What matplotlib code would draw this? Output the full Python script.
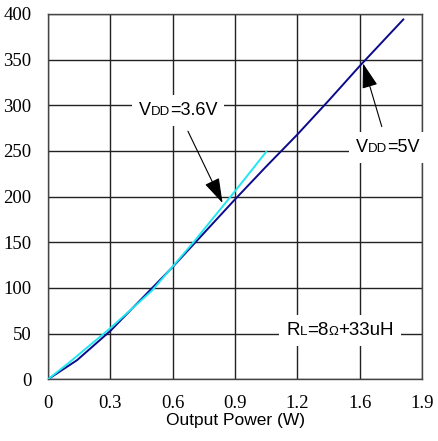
import matplotlib
matplotlib.use('Agg')
import matplotlib.pyplot as plt
from matplotlib.offsetbox import TextArea, HPacker, AnnotationBbox

# Output power (W) vs. supply current / dissipation curves
x_5v = [0, 0.14, 0.3, 0.45, 0.6, 0.75, 0.9, 1.05, 1.2, 1.35, 1.5, 1.71]
y_5v = [0, 21, 53, 88, 123, 160, 197, 233, 268, 305, 343, 394]

x_36v = [0, 0.1, 0.3, 0.5, 0.7, 0.9, 1.05]
y_36v = [0, 18, 56, 97, 150, 206, 249]

xticks = [0, 0.3, 0.6, 0.9, 1.2, 1.5, 1.8]
xtick_labels = ['0', '0.3', '0.6', '0.9', '1.2', '1.6', '1.9']
yticks = [0, 50, 100, 150, 200, 250, 300, 350, 400]

SANS = 'Liberation Sans'
SERIF = 'Liberation Serif'

fig = plt.figure(figsize=(4.38, 4.41), dpi=100)
ax = fig.add_axes([0.1096, 0.1399, 0.8539, 0.8284])

ax.plot(x_5v, y_5v, color='#0a0a8a', lw=1.4, zorder=3)
ax.plot(x_36v, y_36v, color='#22e6f0', lw=1.4, zorder=3)

ax.set_xlim(0, 1.8)
ax.set_ylim(0, 400)
ax.set_xticks(xticks)
ax.set_xticklabels(xtick_labels)
ax.set_yticks(yticks)
ax.tick_params(length=0, labelsize=13.5, pad=11)
for lab in ax.get_xticklabels() + ax.get_yticklabels():
    lab.set_fontfamily(SERIF)
ax.tick_params(axis='y', pad=12)
ax.grid(True, color='#222222', lw=1.0)
for s in ax.spines.values():
    s.set_color('#444444')
    s.set_linewidth(1.0)
ax.set_xlabel('Output Power (W)', fontfamily=SANS, fontsize=12.5, labelpad=1)


def label_box(parts):
    areas = [TextArea(t, textprops=dict(fontfamily=SANS, fontsize=fs, color='black'))
             for t, fs in parts]
    return HPacker(children=areas, align='baseline', pad=0, sep=0)


arrow = dict(arrowstyle='-|>,head_length=1.6,head_width=0.5', color='black',
             lw=0.8, mutation_scale=7, shrinkA=4, shrinkB=0)

ab = AnnotationBbox(label_box([('V', 13), ('DD', 9.5), ('=3.6V', 13)]),
                    xy=(0.84, 193), xybox=(0.626, 294), xycoords='data',
                    boxcoords='data', frameon=True, pad=0.5,
                    bboxprops=dict(facecolor='white', edgecolor='none'),
                    arrowprops=arrow, zorder=5)
ax.add_artist(ab)

ab = AnnotationBbox(label_box([('V', 13), ('DD', 9.5), ('=5V', 13)]),
                    xy=(1.516, 346), xybox=(1.636, 254), xycoords='data',
                    boxcoords='data', frameon=True, pad=0.5,
                    bboxprops=dict(facecolor='white', edgecolor='none'),
                    arrowprops=arrow, zorder=5)
ax.add_artist(ab)

ab = AnnotationBbox(label_box([('R', 13.5), ('L', 9.5), ('=8', 13.5), ('\u03a9', 9.5),
                               ('+33uH', 13.5)]),
                    xy=(1.405, 53), xycoords='data', frameon=True, pad=0.5,
                    bboxprops=dict(facecolor='white', edgecolor='none'), zorder=5)
ax.add_artist(ab)

fig.savefig('out.png', dpi=100)
